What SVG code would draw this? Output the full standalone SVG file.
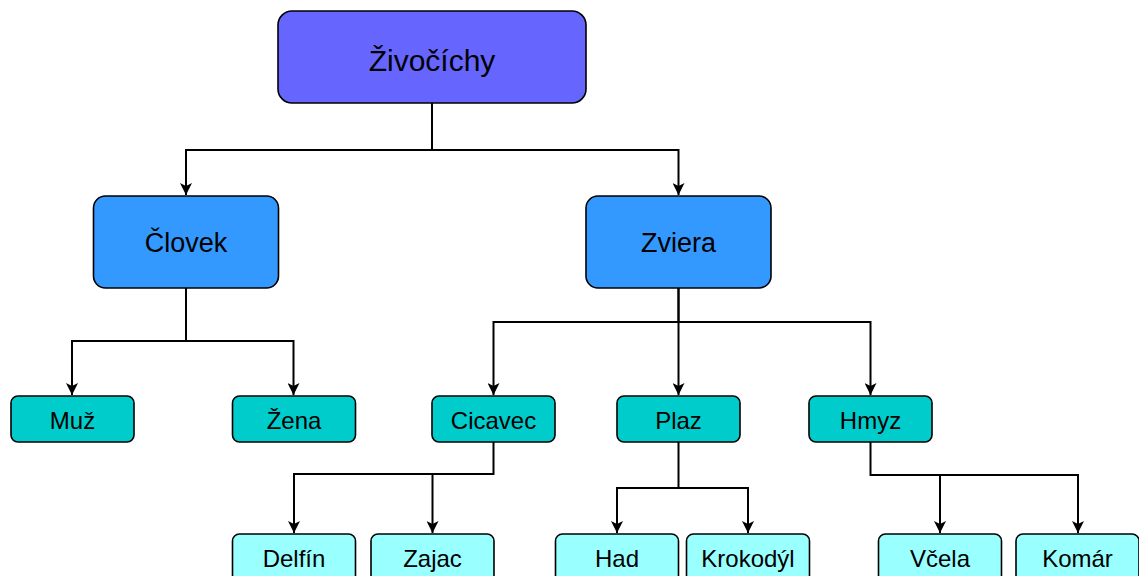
<svg xmlns="http://www.w3.org/2000/svg" width="1139" height="576" viewBox="0 0 1139 576">
<style>
.n rect{stroke:#000;stroke-width:1.6}
.l0 rect{fill:#6666FF}
.l1 rect{fill:#3399FF}
.l2 rect{fill:#00CCCC}
.l3 rect{fill:#99FFFF}
text{font-family:"Liberation Sans",Arial,sans-serif;fill:#000;text-anchor:middle}
.l0 text{font-size:30px}
.l1 text{font-size:27px}
.l2 text,.l3 text{font-size:24px}
.c path{fill:none;stroke:#000;stroke-width:2;marker-end:url(#ah)}
</style>
<defs>
<marker id="ah" markerUnits="userSpaceOnUse" markerWidth="12" markerHeight="12" refX="12" refY="6" orient="auto" viewBox="0 0 12 12">
<path d="M0,0 L12,6 L0,12 L3,6 z" fill="#000"/>
</marker>
</defs>
<g class="c" id="connectors">
<path d="M432 103 V150 H186 V195"/>
<path d="M432 150 H678.5 V195"/>
<path d="M186 288 V341 H72 V395"/>
<path d="M186 341 H293.5 V395"/>
<path d="M678.5 288 V322 H493.5 V395"/>
<path d="M678.5 288 V395"/>
<path d="M678.5 322 H870.5 V395"/>
<path d="M493.5 442 V474 H294 V533"/>
<path d="M493.5 474 H432.5 V533"/>
<path d="M678.5 442 V488 H617 V533"/>
<path d="M678.5 488 H748 V533"/>
<path d="M870.5 442 V475 H940 V533"/>
<path d="M940 475 H1078 V533"/>
</g>
<g class="n l0" id="zivocichy"><rect x="278" y="11" width="308" height="92" rx="14"/><text x="432" y="71">Živočíchy</text></g>
<g class="n l1" id="clovek"><rect x="93.5" y="196" width="185" height="92" rx="12"/><text x="186" y="251.5">Človek</text></g>
<g class="n l1" id="zviera"><rect x="586" y="196" width="185" height="92" rx="12"/><text x="678.5" y="251.5">Zviera</text></g>
<g class="n l2" id="muz"><rect x="11" y="396" width="123" height="46" rx="7"/><text x="72.5" y="428.5">Muž</text></g>
<g class="n l2" id="zena"><rect x="232.5" y="396" width="123" height="46" rx="7"/><text x="294" y="428.5">Žena</text></g>
<g class="n l2" id="cicavec"><rect x="432" y="396" width="123" height="46" rx="7"/><text x="493.5" y="428.5">Cicavec</text></g>
<g class="n l2" id="plaz"><rect x="617" y="396" width="123" height="46" rx="7"/><text x="678.5" y="428.5">Plaz</text></g>
<g class="n l2" id="hmyz"><rect x="809" y="396" width="123" height="46" rx="7"/><text x="870.5" y="428.5">Hmyz</text></g>
<g class="n l3" id="delfin"><rect x="232.5" y="534" width="123" height="48" rx="7"/><text x="294" y="566.5">Delfín</text></g>
<g class="n l3" id="zajac"><rect x="371" y="534" width="123" height="48" rx="7"/><text x="432.5" y="566.5">Zajac</text></g>
<g class="n l3" id="had"><rect x="555.5" y="534" width="123" height="48" rx="7"/><text x="617" y="566.5">Had</text></g>
<g class="n l3" id="krokodyl"><rect x="686.5" y="534" width="123" height="48" rx="7"/><text x="748" y="566.5">Krokodýl</text></g>
<g class="n l3" id="vcela"><rect x="878.5" y="534" width="123" height="48" rx="7"/><text x="940" y="566.5">Včela</text></g>
<g class="n l3" id="komar"><rect x="1016" y="534" width="123" height="48" rx="7"/><text x="1077.5" y="566.5">Komár</text></g>
</svg>
